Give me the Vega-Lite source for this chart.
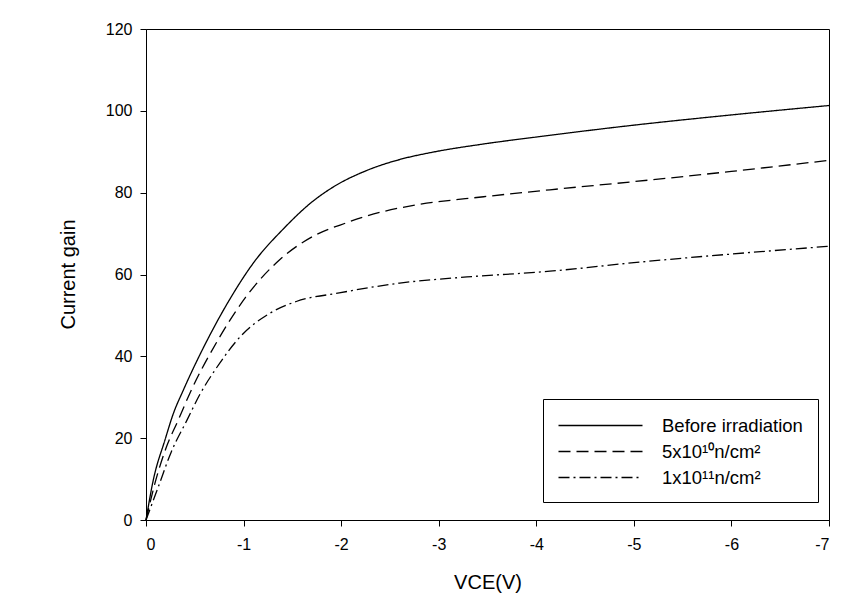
{
  "$schema": "https://vega.github.io/schema/vega-lite/v6.json",
  "width": 683,
  "height": 491,
  "autosize": {"type": "none"},
  "padding": {"left": 146, "top": 29, "right": 32, "bottom": 89},
  "background": "white",
  "config": {
    "font": "Liberation Sans",
    "view": {"stroke": "black", "strokeWidth": 1},
    "axis": {"grid": false, "domainColor": "black", "tickColor": "black", "labelColor": "black", "titleColor": "black", "labelFont": "Liberation Sans", "titleFont": "Liberation Sans", "titleFontWeight": "normal", "labelFontSize": 16, "titleFontSize": 20, "tickSize": 6}
  },
  "data": {"values": [
    {"v": 0, "g": 0, "s": "Before irradiation"},
    {"v": -0.075, "g": 9.8, "s": "Before irradiation"},
    {"v": -0.195, "g": 19.6, "s": "Before irradiation"},
    {"v": -0.28, "g": 26.0, "s": "Before irradiation"},
    {"v": -0.38, "g": 31.6, "s": "Before irradiation"},
    {"v": -0.62, "g": 43.6, "s": "Before irradiation"},
    {"v": -0.86, "g": 54.0, "s": "Before irradiation"},
    {"v": -1.1, "g": 62.8, "s": "Before irradiation"},
    {"v": -1.41, "g": 71.2, "s": "Before irradiation"},
    {"v": -1.71, "g": 77.9, "s": "Before irradiation"},
    {"v": -1.92, "g": 81.4, "s": "Before irradiation"},
    {"v": -2.26, "g": 85.4, "s": "Before irradiation"},
    {"v": -2.6, "g": 88.1, "s": "Before irradiation"},
    {"v": -2.94, "g": 89.9, "s": "Before irradiation"},
    {"v": -3.46, "g": 91.9, "s": "Before irradiation"},
    {"v": -4.0, "g": 93.6, "s": "Before irradiation"},
    {"v": -5.0, "g": 96.5, "s": "Before irradiation"},
    {"v": -6.0, "g": 99.0, "s": "Before irradiation"},
    {"v": -7.0, "g": 101.3, "s": "Before irradiation"},
    {"v": 0, "g": 0, "s": "5x10¹⁰n/cm²"},
    {"v": -0.092, "g": 9, "s": "5x10¹⁰n/cm²"},
    {"v": -0.21, "g": 17.9, "s": "5x10¹⁰n/cm²"},
    {"v": -0.33, "g": 24.4, "s": "5x10¹⁰n/cm²"},
    {"v": -0.45, "g": 31, "s": "5x10¹⁰n/cm²"},
    {"v": -0.75, "g": 44.5, "s": "5x10¹⁰n/cm²"},
    {"v": -1.02, "g": 54.4, "s": "5x10¹⁰n/cm²"},
    {"v": -1.37, "g": 63.6, "s": "5x10¹⁰n/cm²"},
    {"v": -1.71, "g": 69.3, "s": "5x10¹⁰n/cm²"},
    {"v": -2.05, "g": 72.6, "s": "5x10¹⁰n/cm²"},
    {"v": -2.4, "g": 75.2, "s": "5x10¹⁰n/cm²"},
    {"v": -2.77, "g": 77.0, "s": "5x10¹⁰n/cm²"},
    {"v": -3.46, "g": 79.0, "s": "5x10¹⁰n/cm²"},
    {"v": -4.14, "g": 80.7, "s": "5x10¹⁰n/cm²"},
    {"v": -5.0, "g": 82.7, "s": "5x10¹⁰n/cm²"},
    {"v": -6.0, "g": 85.2, "s": "5x10¹⁰n/cm²"},
    {"v": -7.0, "g": 87.9, "s": "5x10¹⁰n/cm²"},
    {"v": 0, "g": 0, "s": "1x10¹¹n/cm²"},
    {"v": -0.126, "g": 8.1, "s": "1x10¹¹n/cm²"},
    {"v": -0.26, "g": 16.7, "s": "1x10¹¹n/cm²"},
    {"v": -0.42, "g": 24.4, "s": "1x10¹¹n/cm²"},
    {"v": -0.55, "g": 30.6, "s": "1x10¹¹n/cm²"},
    {"v": -0.72, "g": 37.1, "s": "1x10¹¹n/cm²"},
    {"v": -0.99, "g": 45.4, "s": "1x10¹¹n/cm²"},
    {"v": -1.26, "g": 50.4, "s": "1x10¹¹n/cm²"},
    {"v": -1.54, "g": 53.4, "s": "1x10¹¹n/cm²"},
    {"v": -1.98, "g": 55.5, "s": "1x10¹¹n/cm²"},
    {"v": -2.6, "g": 57.9, "s": "1x10¹¹n/cm²"},
    {"v": -3.29, "g": 59.4, "s": "1x10¹¹n/cm²"},
    {"v": -4.14, "g": 60.8, "s": "1x10¹¹n/cm²"},
    {"v": -5.0, "g": 62.9, "s": "1x10¹¹n/cm²"},
    {"v": -6.0, "g": 65.0, "s": "1x10¹¹n/cm²"},
    {"v": -7.0, "g": 66.9, "s": "1x10¹¹n/cm²"}
  ]},
  "mark": {"type": "line", "interpolate": "monotone", "color": "black", "strokeWidth": 1.3},
  "encoding": {
    "x": {"field": "v", "type": "quantitative",
      "scale": {"domain": [-7, 0], "reverse": true, "nice": false},
      "axis": {"values": [0, -1, -2, -3, -4, -5, -6, -7], "labelExpr": "replace(datum.label, '−', '-')", "labelPadding": 10, "title": "VCE(V)", "titleY": 62, "titleBaseline": "middle"}},
    "y": {"field": "g", "type": "quantitative",
      "scale": {"domain": [0, 120], "nice": false},
      "axis": {"values": [0, 20, 40, 60, 80, 100, 120], "labelPadding": 8, "title": "Current gain", "titleX": -78, "titleY": 245, "titleAngle": -90, "titleBaseline": "middle", "titleAlign": "center"}},
    "strokeDash": {"field": "s", "type": "nominal",
      "scale": {"domain": ["Before irradiation", "5x10¹⁰n/cm²", "1x10¹¹n/cm²"], "range": [[1, 0], [12, 6], [11, 4, 2, 4]]},
      "legend": {"title": null, "orient": "none", "legendX": 397, "legendY": 370, "direction": "vertical",
        "strokeColor": "black", "fillColor": "white", "padding": 15,
        "symbolType": "M-4,0L4,0", "symbolSize": 441, "symbolOffset": 31, "symbolStrokeColor": "black", "symbolStrokeWidth": 1.3,
        "labelFontSize": 18.5, "labelFont": "Liberation Sans", "labelColor": "black", "labelOffset": 50, "rowPadding": 5}}
  }
}
